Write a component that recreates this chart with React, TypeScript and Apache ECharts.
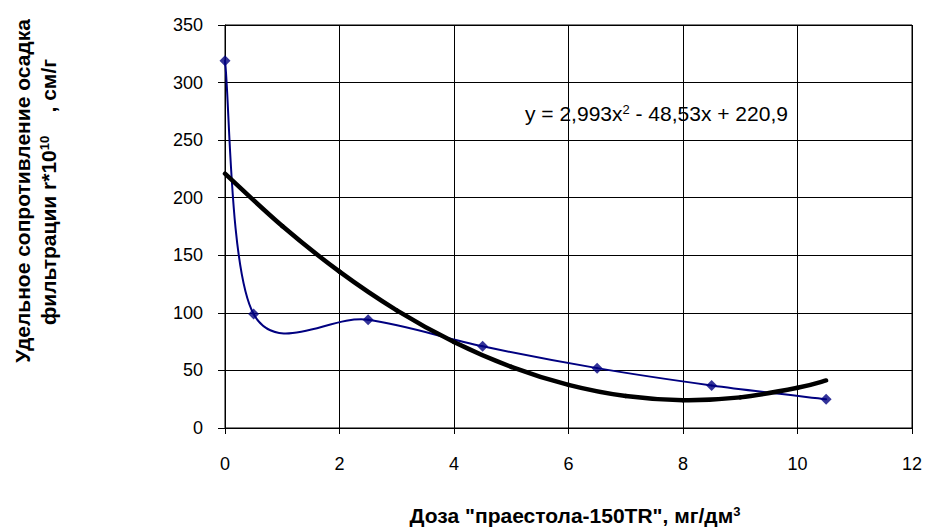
import React, { useEffect, useRef } from "react";
import * as echarts from "echarts";

const doseX = [0, 0.5, 2.5, 4.5, 6.5, 8.5, 10.5];
const resistanceY = [319, 99, 94, 71, 52, 37, 25];

const trendX = [0, 1, 2, 3, 4, 5, 6, 7, 8, 9, 10, 10.5];
const trendY = [220.9, 175.4, 135.8, 102.2, 74.7, 53.1, 37.5, 27.8, 24.2, 26.6, 34.9, 41.3];

const xTicks = { min: 0, max: 12, interval: 2 };
const yTicks = { min: 0, max: 350, interval: 50 };

const equationText = "y = 2,993x";
const equationRest = " - 48,53x + 220,9";

function smoothRenderer(xs: number[], ys: number[], color: string, width: number) {
  return (params: any, api: any) => {
    const i = params.dataIndex;
    const n = xs.length;
    if (i >= n - 1) return null;
    const p = (k: number) => {
      const kk = Math.max(0, Math.min(n - 1, k));
      return api.coord([xs[kk], ys[kk]]);
    };
    const p0 = p(i - 1);
    const p1 = p(i);
    const p2 = p(i + 1);
    const p3 = p(i + 2);
    const t = 1 / 6;
    return {
      type: "bezierCurve",
      shape: {
        x1: p1[0],
        y1: p1[1],
        x2: p2[0],
        y2: p2[1],
        cpx1: p1[0] + (p2[0] - p0[0]) * t,
        cpy1: p1[1] + (p2[1] - p0[1]) * t,
        cpx2: p2[0] - (p3[0] - p1[0]) * t,
        cpy2: p2[1] - (p3[1] - p1[1]) * t,
      },
      style: { stroke: color, lineWidth: width, fill: "none", lineCap: "round" },
    };
  };
}

export default function App() {
  const ref = useRef<HTMLDivElement>(null);
  useEffect(() => {
    if (!ref.current) return;
    const chart = echarts.init(ref.current, undefined, { renderer: "svg" });
    const font = "'Liberation Sans', Arial, sans-serif";
    const tickFont = 18;
    const titleFont = 21;
    const option: any = {
      animation: false,
      backgroundColor: "#fff",
      textStyle: { fontFamily: font },
      grid: { left: 225, right: 15, top: 25, bottom: 101, containLabel: false },
      xAxis: {
        type: "value",
        min: xTicks.min,
        max: xTicks.max,
        interval: xTicks.interval,
        axisLine: { show: true, lineStyle: { color: "#000", width: 1 } },
        axisTick: { show: true, length: 6, lineStyle: { color: "#000" } },
        axisLabel: { color: "#000", fontSize: tickFont, fontFamily: font, margin: 27 },
        splitLine: { show: true, lineStyle: { color: "#000", width: 1 } },
      },
      yAxis: {
        type: "value",
        min: yTicks.min,
        max: yTicks.max,
        interval: yTicks.interval,
        axisLine: { show: true, lineStyle: { color: "#000", width: 1 } },
        axisTick: { show: true, length: 7, lineStyle: { color: "#000" } },
        axisLabel: { color: "#000", fontSize: tickFont, fontFamily: font, margin: 22 },
        splitLine: { show: true, lineStyle: { color: "#000", width: 1 } },
      },
      graphic: [
        {
          type: "rect",
          shape: { x: 225, y: 25, width: 687, height: 403 },
          style: { fill: "none", stroke: "#000", lineWidth: 1 },
          silent: true,
          z: 1,
        },
        {
          type: "text",
          x: 525,
          y: 113,
          style: {
            text: "{a|" + equationText + "}{s|2}{a|" + equationRest + "}",
            fill: "#000",
            verticalAlign: "middle",
            rich: {
              a: { fontSize: 21, fontFamily: font, fill: "#000" },
              s: { fontSize: 13, fontFamily: font, fill: "#000", verticalAlign: "top", padding: [0, 0, 8, 0] },
            },
          },
          z: 10,
        },
        {
          type: "text",
          x: 575,
          y: 515,
          style: {
            text: "{a|Доза \"праестола-150TR\", мг/дм}{s|3}",
            fill: "#000",
            align: "center",
            verticalAlign: "middle",
            rich: {
              a: { fontSize: titleFont, fontWeight: "bold", fontFamily: font, fill: "#000" },
              s: { fontSize: 13, fontWeight: "bold", fontFamily: font, fill: "#000", verticalAlign: "top", padding: [0, 0, 8, 0] },
            },
          },
          z: 10,
        },
        {
          type: "text",
          x: 22,
          y: 191,
          rotation: Math.PI / 2,
          style: {
            text: "Удельное сопротивление осадка",
            fill: "#000",
            font: "bold " + titleFont + "px " + font,
            align: "center",
            verticalAlign: "middle",
          },
          z: 10,
        },
        {
          type: "text",
          x: 48,
          y: 192,
          rotation: Math.PI / 2,
          style: {
            text: "{a|фильтрации r*10}{s|10}{a|    , см/г}",
            fill: "#000",
            align: "center",
            verticalAlign: "middle",
            rich: {
              a: { fontSize: titleFont, fontWeight: "bold", fontFamily: font, fill: "#000" },
              s: { fontSize: 13, fontWeight: "bold", fontFamily: font, fill: "#000", verticalAlign: "top", padding: [0, 0, 8, 0] },
            },
          },
          z: 10,
        },
      ],
      series: [
        {
          type: "custom",
          coordinateSystem: "cartesian2d",
          encode: { x: 0, y: 1 },
          data: doseX.map((x, i) => [x, resistanceY[i]]),
          renderItem: smoothRenderer(doseX, resistanceY, "#000080", 2),
          z: 3,
          silent: true,
        },
        {
          type: "scatter",
          data: doseX.map((x, i) => [x, resistanceY[i]]),
          symbol: "diamond",
          symbolSize: 11,
          itemStyle: { color: "#000080" },
          z: 4,
        },
        {
          type: "custom",
          coordinateSystem: "cartesian2d",
          encode: { x: 0, y: 1 },
          data: trendX.map((x, i) => [x, trendY[i]]),
          renderItem: smoothRenderer(trendX, trendY, "#000", 4.5),
          z: 5,
          silent: true,
        },
      ],
    };
    chart.setOption(option);
    return () => chart.dispose();
  }, []);
  return <div ref={ref} style={{ width: 927, height: 529, position: "absolute", left: 0, top: 0 }} />;
}
